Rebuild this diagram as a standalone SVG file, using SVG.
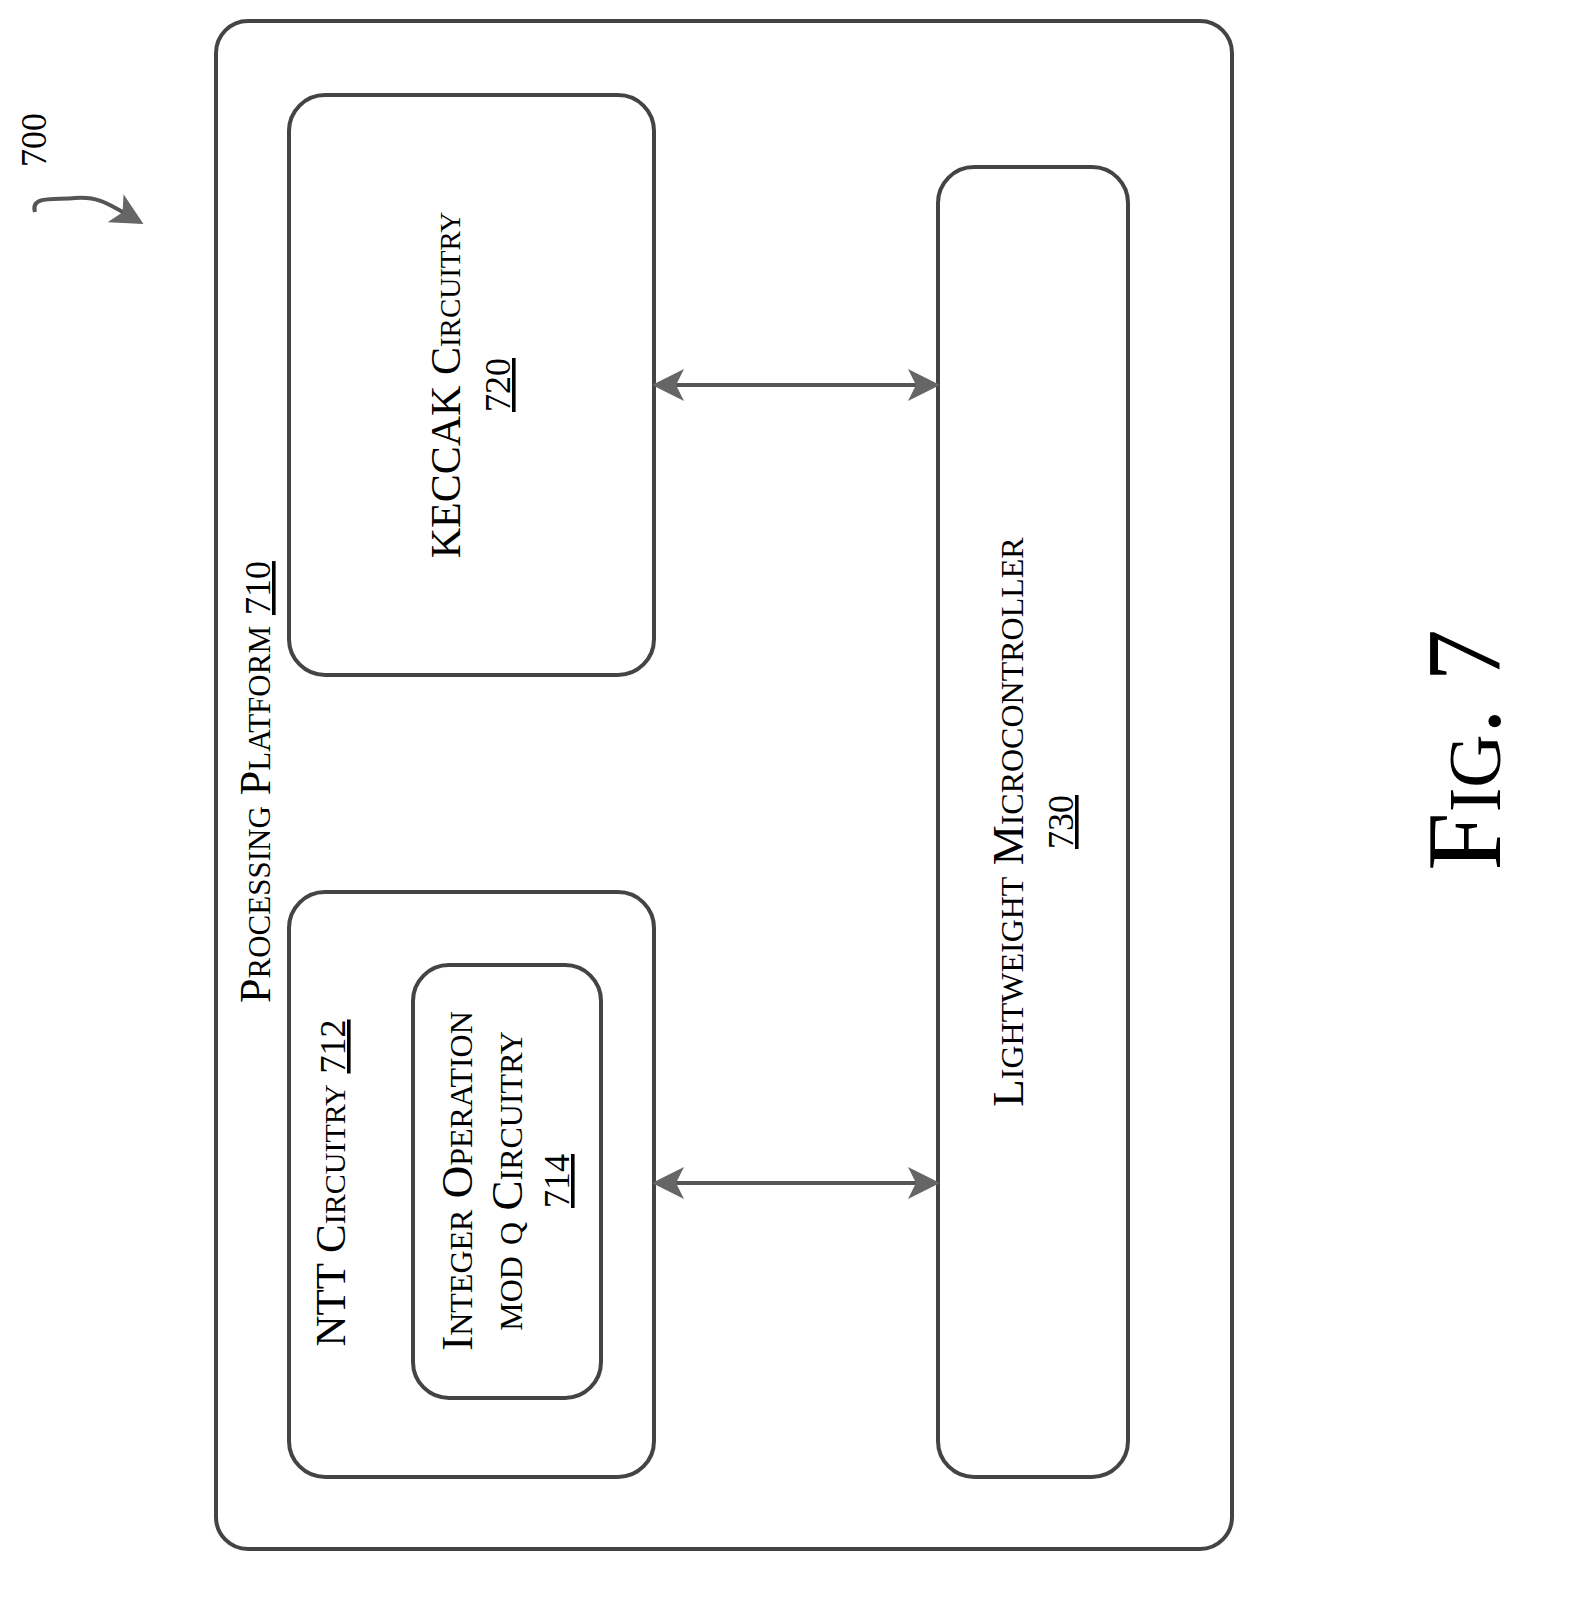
<svg xmlns="http://www.w3.org/2000/svg" width="1569" height="1621" viewBox="0 0 1569 1621">
<style>
.b{fill:none;stroke:#444;stroke-width:4}
.t{font-family:"Liberation Serif",serif;font-variant:small-caps;fill:#000;text-anchor:middle}
.n{font-family:"Liberation Serif",serif;fill:#000;text-anchor:middle;font-size:36px;text-decoration:underline}
.c{stroke:#555;stroke-width:4;fill:none}
</style>
<defs>
<marker id="a" markerWidth="8" markerHeight="8" refX="7" refY="4" orient="auto-start-reverse" markerUnits="strokeWidth">
<path d="M0,0 L8,4 L0,8 L2,4 Z" fill="#666"/>
</marker>
</defs>
<rect width="1569" height="1621" fill="#fff"/>
<g id="outer"><rect class="b" x="216" y="21" width="1016" height="1528" rx="32"/>
<text class="t" font-size="44" transform="translate(270,782) rotate(-90)">Processing Platform <tspan text-decoration="underline" font-variant="normal" font-size="36">710</tspan></text></g>
<g id="keccak"><rect class="b" x="289" y="95" width="365" height="580" rx="36"/>
<text class="t" font-size="42" transform="translate(460,385) rotate(-90)">KECCAK Circuitry</text>
<text class="n" transform="translate(510,385) rotate(-90)">720</text></g>
<g id="ntt"><rect class="b" x="289" y="892" width="365" height="585" rx="36"/>
<text class="t" font-size="43" transform="translate(345,1183) rotate(-90)">NTT Circuitry <tspan text-decoration="underline" font-variant="normal" font-size="36">712</tspan></text></g>
<g id="intop"><rect class="b" x="413" y="965" width="188" height="433" rx="36"/>
<text class="t" font-size="45" transform="translate(472,1181) rotate(-90)">Integer Operation</text>
<text class="t" font-size="45" transform="translate(522,1181) rotate(-90)">mod q Circuitry</text>
<text class="n" transform="translate(569,1181) rotate(-90)">714</text></g>
<g id="micro"><rect class="b" x="938" y="167" width="190" height="1310" rx="36"/>
<text class="t" font-size="45" transform="translate(1023,822) rotate(-90)">Lightweight Microcontroller</text>
<text class="n" transform="translate(1073,822) rotate(-90)">730</text></g>
<g id="connectors">
<line class="c" x1="656" y1="385" x2="936" y2="385" marker-start="url(#a)" marker-end="url(#a)"/>
<line class="c" x1="656" y1="1183" x2="936" y2="1183" marker-start="url(#a)" marker-end="url(#a)"/>
<path class="c" d="M35,212 C30,195 55,200 75,198 C100,196 110,205 140,222" marker-end="url(#a)"/>
</g>
<text class="n" font-size="32" style="text-decoration:none" transform="translate(46,140) rotate(-90)">700</text>
<text class="t" font-size="105" transform="translate(1500,750) rotate(-90)">Fig. 7</text>
</svg>
